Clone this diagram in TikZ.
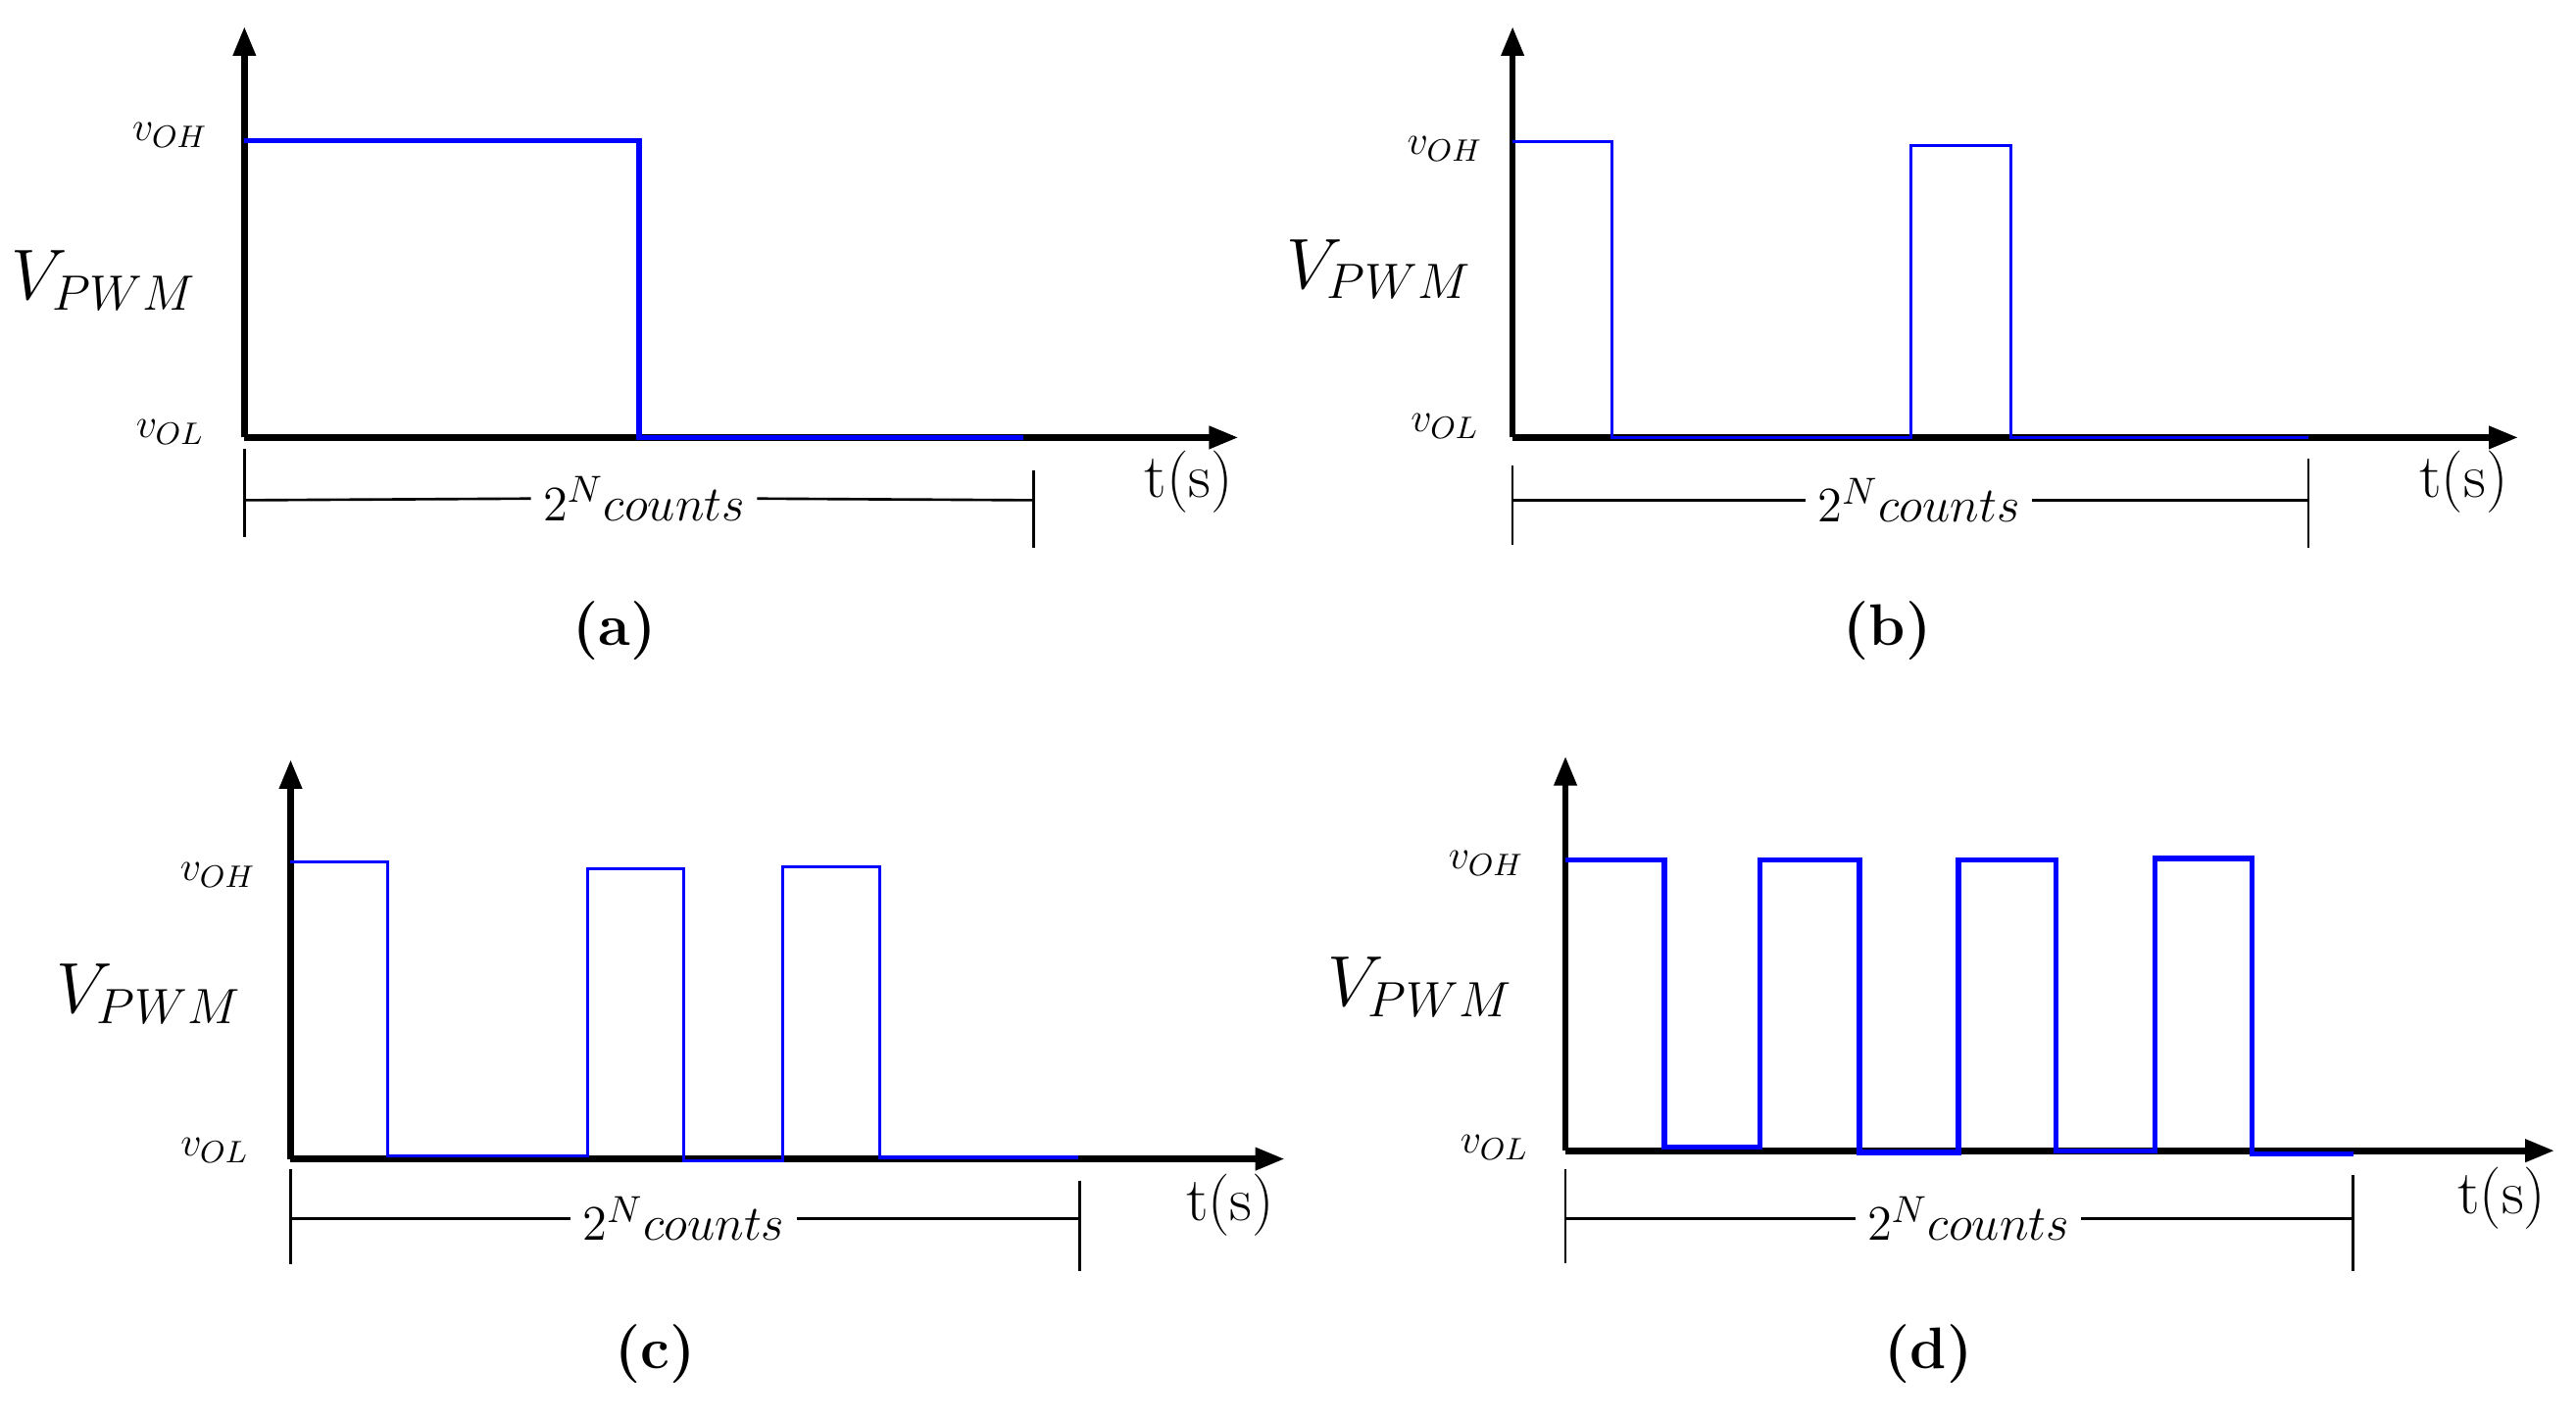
\documentclass[tikz,border=0pt]{standalone}
\usetikzlibrary{arrows.meta}
\begin{document}
\begin{tikzpicture}[x=0.01685cm,y=-0.01685cm,
 axis/.style={line width=1.9pt,-{Triangle[length=0.3cm,width=0.22cm]}},
 sigthick/.style={blue,line width=1.5pt,line join=miter},
 sigthin/.style={blue,line width=0.9pt},
 brk/.style={line width=0.75pt},
 vpwm/.style={font=\fontsize{21}{24}\selectfont},
 vlev/.style={font=\fontsize{13}{15}\selectfont},
 cnt/.style={font=\fontsize{15}{18}\selectfont},
 tlab/.style={font=\fontsize{18}{21}\selectfont},
 figcap/.style={font=\fontsize{17}{20}\selectfont\bfseries}]
\useasboundingbox (0,0) rectangle (1560,860);
% ---- (a)
\coordinate (aO) at (148,265);
\coordinate (aY) at (148,16);
\coordinate (aX) at (750,265);
\draw[axis] (aO) -- (aY);
\draw[axis] (aO) -- (aX);
\draw[sigthick] (148,85) -- (387,85) -- (387,265) -- (620,265);
\node[vlev] (aoh) at (103,82) {$v_{OH}$};
\node[vlev] (aol) at (103,262) {$v_{OL}$};
\node[vpwm] (avp) at (63,170) {$V_{PWM}$};
\node[tlab] (at) at (720,292) {t(s)};
\node[cnt] (ac) at (390,302) {$2^N counts$};
\draw[brk] (148,272) -- (148,325);
\draw[brk] (626,285) -- (626,332);
\draw[brk] (148,303) -- (ac.west);
\draw[brk] (ac.east) -- (626,303);
\node[figcap] (acap) at (372,382) {(a)};
% ---- (b)
\coordinate (bO) at (916,265);
\coordinate (bY) at (916,16);
\coordinate (bX) at (1525,265);
\draw[axis] (bO) -- (bY);
\draw[axis] (bO) -- (bX);
\draw[sigthin] (916,86) -- (976,86) -- (976,265) -- (1157,265) -- (1157,88) -- (1218,88) -- (1218,265) -- (1398,265);
\node[vlev] (boh) at (875,90) {$v_{OH}$};
\node[vlev] (bol) at (875,258) {$v_{OL}$};
\node[vpwm] (bvp) at (835,163) {$V_{PWM}$};
\node[tlab] (bt) at (1492,292) {t(s)};
\node[cnt] (bc) at (1162,303) {$2^N counts$};
\draw[brk] (916,282) -- (916,330);
\draw[brk] (1398,278) -- (1398,332);
\draw[brk] (916,303) -- (bc.west);
\draw[brk] (bc.east) -- (1398,303);
\node[figcap] (bcap) at (1143,382) {(b)};
% ---- (c)
\coordinate (cO) at (176,702);
\coordinate (cY) at (176,460);
\coordinate (cX) at (778,702);
\draw[axis] (cO) -- (cY);
\draw[axis] (cO) -- (cX);
\draw[sigthin] (176,522) -- (235,522) -- (235,700) -- (356,700) -- (356,526) -- (414,526) -- (414,703) -- (474,703) -- (474,525) -- (533,525) -- (533,701) -- (653,701);
\node[vlev] (coh) at (132,530) {$v_{OH}$};
\node[vlev] (col) at (130,697) {$v_{OL}$};
\node[vpwm] (cvp) at (90,602) {$V_{PWM}$};
\node[tlab] (ct) at (745,730) {t(s)};
\node[cnt] (cc) at (414,738) {$2^N counts$};
\draw[brk] (176,708) -- (176,766);
\draw[brk] (654,715) -- (654,770);
\draw[brk] (176,738) -- (cc.west);
\draw[brk] (cc.east) -- (654,738);
\node[figcap] (ccap) at (397,820) {(c)};
% ---- (d)
\coordinate (dO) at (948,697);
\coordinate (dY) at (948,458);
\coordinate (dX) at (1547,697);
\draw[axis] (dO) -- (dY);
\draw[axis] (dO) -- (dX);
\draw[sigthick] (948,521) -- (1008,521) -- (1008,695) -- (1066,695) -- (1066,521) -- (1126,521) -- (1126,698) -- (1186,698) -- (1186,521) -- (1245,521) -- (1245,697) -- (1305,697) -- (1305,520) -- (1364,520) -- (1364,699) -- (1425,699);
\node[vlev] (doh) at (900,523) {$v_{OH}$};
\node[vlev] (dol) at (905,695) {$v_{OL}$};
\node[vpwm] (dvp) at (860,598) {$V_{PWM}$};
\node[tlab] (dt) at (1515,726) {t(s)};
\node[cnt] (dc) at (1192,738) {$2^N counts$};
\draw[brk] (948,708) -- (948,765);
\draw[brk] (1425,712) -- (1425,770);
\draw[brk] (948,738) -- (dc.west);
\draw[brk] (dc.east) -- (1425,738);
\node[figcap] (dcap) at (1168,820) {(d)};
\end{tikzpicture}
\end{document}
